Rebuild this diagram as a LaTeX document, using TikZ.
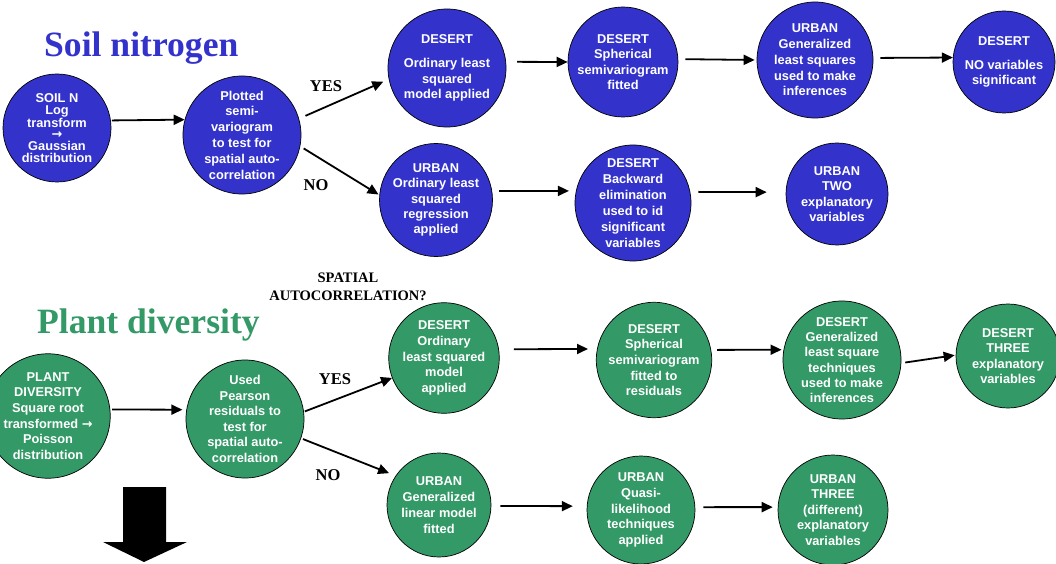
\documentclass[tikz,border=0pt]{standalone}
\usepackage{fontspec}
\setmainfont{Liberation Serif}
\setsansfont{Liberation Sans}
\newfontfamily\djv{DejaVu Sans}
\newcommand{\rarr}{{\djv\bfseries →}}
\usetikzlibrary{arrows.meta}
\definecolor{nblue}{RGB}{51,51,204}
\definecolor{ngreen}{RGB}{51,153,102}
\tikzset{
  bub/.style={circle, draw=black, line width=0.7pt, inner sep=0pt, align=center,
    text=white, font=\sffamily\bfseries\fontsize{12.8}{15.4}\selectfont},
  bb/.style={bub, fill=nblue},
  gb/.style={bub, fill=ngreen},
  arr/.style={-{Triangle[length=11pt,width=10pt]}, line width=1.8pt},
  yn/.style={font=\rmfamily\bfseries\fontsize{16.5}{18}\selectfont},
  ttl/.style={anchor=base west, inner sep=0pt, font=\rmfamily\bfseries\fontsize{35.6}{40}\selectfont}
}
\begin{document}
\begin{tikzpicture}[x=1pt,y=-1pt]
\useasboundingbox (0,0) rectangle (1056,564);
% titles
\node[ttl, text=nblue] (t1) at (44,57) {Soil nitrogen};
\node[ttl, text=ngreen] (t2) at (37,333) {Plant diversity};
% top row
\node[bb, minimum size=108pt, font=\sffamily\bfseries\fontsize{12.8}{11.6}\selectfont] (soil) at (57,128) {SOIL N\\Log\\transform\\\rarr\\Gaussian\\distribution};
\node[bb, minimum size=118pt, font=\sffamily\bfseries\fontsize{12.8}{15.8}\selectfont] (plot) at (242,135) {Plotted\\semi-\\variogram\\to test for\\spatial auto-\\correlation};
\node[bb, minimum size=118pt] (desOLS) at (447,68) {DESERT\\[9pt]Ordinary least\\squared\\model applied};
\node[bb, minimum size=110pt] (desSph) at (623,62) {DESERT\\Spherical\\semivariogram\\fitted};
\node[bb, minimum size=116pt, font=\sffamily\bfseries\fontsize{12.8}{15.7}\selectfont] (urbGLS) at (815,60) {URBAN\\Generalized\\least squares\\used to make\\inferences};
\node[bb, minimum size=102pt] (desNO) at (1004,62) {DESERT\\[8pt]NO variables\\significant};
\node[bb, minimum size=112pt] (urbOLS) at (436,200) {URBAN\\Ordinary least\\squared\\regression\\applied};
\node[bb, minimum size=116pt, font=\sffamily\bfseries\fontsize{12.8}{16}\selectfont] (back) at (633,203) {DESERT\\Backward\\elimination\\used to id\\significant\\variables};
\node[bb, minimum size=102pt] (two) at (837,194) {URBAN\\TWO\\explanatory\\variables};
% top arrows
\draw[arr, shorten <=1pt] (soil.8.5) -- (plot.165);
\draw[arr, shorten <=7pt, shorten >=6pt] (plot.16) -- (desOLS.191);
\draw[arr, shorten <=4pt, shorten >=1pt] (plot.-11) -- (urbOLS.175);
\draw[arr, shorten <=11pt] (desOLS.6) -- (desSph.west);
\draw[arr, shorten <=7pt, shorten >=2pt] (desSph.3) -- (urbGLS.west);
\draw[arr, shorten <=7pt] (urbGLS.2) -- (desNO.175);
\draw[arr, shorten <=7pt, shorten >=7pt] (urbOLS.9) -- (back.168);
\draw[arr, shorten <=8pt, shorten >=19pt] (back.11) -- (two.178);
\node[yn] (yes1) at (326,86) {YES};
\node[yn] (no1) at (316,185) {NO};
% spatial autocorrelation label
\node[align=center, font=\rmfamily\bfseries\fontsize{14.5}{18.5}\selectfont] (sp) at (348,287) {SPATIAL\\AUTOCORRELATION?};
% bottom row
\node[gb, minimum size=118pt, font=\sffamily\bfseries\fontsize{12.8}{15.6}\selectfont] (plant) at (48,416) {PLANT\\DIVERSITY\\Square root\\transformed \rarr\\Poisson\\distribution};
\node[gb, minimum size=118pt, font=\sffamily\bfseries\fontsize{12.8}{15.6}\selectfont] (used) at (245,419) {Used\\Pearson\\residuals to\\test for\\spatial auto-\\correlation};
\node[gb, minimum size=108pt, font=\sffamily\bfseries\fontsize{12.8}{15.6}\selectfont] (gOLS) at (444,358) {DESERT\\Ordinary\\least squared\\model\\applied};
\node[gb, minimum size=114pt, font=\sffamily\bfseries\fontsize{12.8}{15.6}\selectfont] (gSph) at (654,360) {DESERT\\Spherical\\semivariogram\\fitted to\\residuals};
\node[gb, minimum size=118pt, font=\sffamily\bfseries\fontsize{12.8}{15.2}\selectfont] (gGLS) at (842,360) {DESERT\\Generalized\\least square\\techniques\\used to make\\inferences};
\node[gb, minimum size=104pt, font=\sffamily\bfseries\fontsize{12.8}{15.6}\selectfont] (three) at (1008,356) {DESERT\\THREE\\explanatory\\variables};
\node[gb, minimum size=104pt, font=\sffamily\bfseries\fontsize{12.8}{15.8}\selectfont] (glm) at (439,505) {URBAN\\Generalized\\linear model\\fitted};
\node[gb, minimum size=108pt, font=\sffamily\bfseries\fontsize{12.8}{15.8}\selectfont] (quasi) at (641,510) {URBAN\\Quasi-\\likelihood\\techniques\\applied};
\node[gb, minimum size=110pt, font=\sffamily\bfseries\fontsize{12.8}{15.5}\selectfont] (uthree) at (833,510) {URBAN\\THREE\\(different)\\explanatory\\variables};
% bottom arrows
\draw[arr, shorten <=2pt, shorten >=4pt] (plant.6) -- (used.171);
\draw[arr, shorten <=1pt] (used.7) -- (gOLS.201);
\draw[arr, shorten <=2pt, shorten >=7pt] (used.-19.5) -- (glm.146);
\draw[arr, shorten <=15pt, shorten >=9pt] (gOLS.9.4) -- (gSph.169);
\draw[arr, shorten <=6pt, shorten >=2pt] (gSph.10) -- (gGLS.170);
\draw[arr, shorten <=4pt, shorten >=1pt] (gGLS.-3) -- (three.179);
\draw[arr, shorten <=9pt, shorten >=14pt] (glm.-1) -- (quasi.176);
\draw[arr, shorten <=8pt, shorten >=5pt] (quasi.3) -- (uthree.177);
\node[yn] (yes2) at (335,379) {YES};
\node[yn] (no2) at (328,475) {NO};
% big down arrow
\fill[black] (123,487) -- (166,487) -- (166,542) -- (187,542) -- (144,562) -- (103,542) -- (123,542) -- cycle;
\end{tikzpicture}
\end{document}
